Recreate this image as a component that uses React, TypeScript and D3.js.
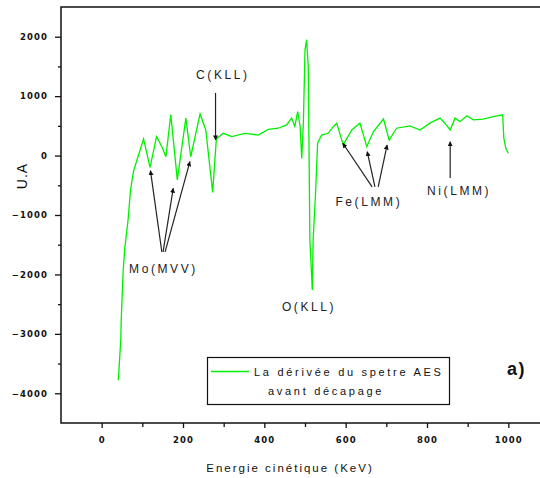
import React, { useEffect, useRef } from "react";
import * as d3 from "d3";

// energie cinetique (KeV) / derivee du spectre AES (U.A)
const energy = [
  41, 47, 48, 50, 53, 57, 65, 71, 78, 88, 103, 119, 135, 148, 158, 170, 186, 207, 219, 242,
  256, 273, 282, 299, 320, 352, 385, 410, 434, 455, 467, 475, 482, 488, 492, 496, 500, 504,
  508, 512, 518, 520, 526, 531, 541, 557, 570, 578, 594, 615, 635, 652, 668, 693, 707, 725,
  758, 783, 807, 832, 844, 857, 869, 881, 898, 914, 938, 963, 986, 989, 994, 1000,
];
const derivee = [
  -3780, -3100, -2770, -2430, -1920, -1550, -1080, -580, -270, -50, 280, -200, 320, 150, -20,
  690, -410, 630, -20, 700, 430, -620, 280, 375, 320, 375, 345, 440, 460, 515, 630, 490, 740,
  490, -50, 540, 1780, 1950, 1500, -1420, -2260, -1420, -630, 210, 345, 375, 490, 545, 180,
  430, 545, 150, 400, 615, 260, 460, 500, 430, 545, 630, 545, 430, 630, 570, 670, 600, 615,
  655, 685, 290, 120, 40,
];

const xTicks = [0, 200, 400, 600, 800, 1000];
const xMinor = [100, 300, 500, 700, 900];
const yTicks = [-4000, -3000, -2000, -1000, 0, 1000, 2000];
const yMinor = [-3500, -2500, -1500, -500, 500, 1500];

// annotations, in data units: label, text position, arrows [x0, y0, x1, y1]
const annLabels = ["C(KLL)", "Mo(MVV)", "O(KLL)", "Fe(LMM)", "Ni(LMM)"];
const annText = [[298, 1290], [152, -1976], [510, -2615], [657, -848], [879, -663]];
const annArrows = [
  [[280, 1054, 280, 263]],
  [[148, -1622, 120, -254], [151, -1622, 176, -550], [156, -1622, 217, -103]],
  [],
  [[665, -528, 593, 207], [672, -528, 653, 66], [680, -528, 702, 178]],
  [[857, -377, 857, 234]],
];

const W = 540, H = 478;
const left = 61, right = 549, top = 7, bottom = 423;
const sans = "'Liberation Sans', Arial, sans-serif";

export default function App() {
  const ref = useRef<SVGSVGElement>(null);

  useEffect(() => {
    const svg = d3.select(ref.current);
    svg.selectAll("*").remove();

    const x = d3.scaleLinear().domain([-100, 1100]).range([left, right]);
    const y = d3.scaleLinear().domain([-4500, 2500]).range([bottom, top]);

    const defs = svg.append("defs");
    defs.append("marker")
      .attr("id", "head")
      .attr("viewBox", "0 0 10 10")
      .attr("refX", 9).attr("refY", 5)
      .attr("markerWidth", 5).attr("markerHeight", 5)
      .attr("markerUnits", "userSpaceOnUse")
      .attr("orient", "auto")
      .append("path").attr("d", "M0,0L10,5L0,10Z").attr("fill", "#111");

    // frame
    svg.append("rect")
      .attr("x", left).attr("y", top)
      .attr("width", right - left).attr("height", bottom - top)
      .attr("fill", "none").attr("stroke", "#111").attr("stroke-width", 1.5);

    // axes
    const gx = svg.append("g").attr("transform", `translate(0,${bottom})`);
    gx.call(d3.axisBottom(x).tickValues(xTicks).tickSize(5).tickPadding(9).tickFormat(d3.format("d")));
    const gxm = svg.append("g").attr("transform", `translate(0,${bottom})`);
    gxm.call(d3.axisBottom(x).tickValues(xMinor).tickSize(4).tickFormat(() => ""));

    const gy = svg.append("g").attr("transform", `translate(${left},0)`);
    gy.call(d3.axisLeft(y).tickValues(yTicks).tickSize(6).tickPadding(7).tickFormat(d3.format("d")));
    const gym = svg.append("g").attr("transform", `translate(${left},0)`);
    gym.call(d3.axisLeft(y).tickValues(yMinor).tickSize(3).tickFormat(() => ""));

    [gx, gxm, gy, gym].forEach((g) => {
      g.select(".domain").remove();
      g.selectAll("line").attr("stroke", "#111").attr("stroke-width", 1.3);
      g.selectAll("text")
        .attr("font-family", "'DejaVu Sans', sans-serif")
        .attr("font-weight", "bold")
        .attr("font-size", 8.5)
        .attr("letter-spacing", 1.1)
        .attr("fill", "#111");
    });

    // curve
    const pts = energy.map((e, i) => [e, derivee[i]] as [number, number]);
    svg.append("path")
      .datum(pts)
      .attr("d", d3.line<[number, number]>().x((d) => x(d[0])).y((d) => y(d[1])))
      .attr("fill", "none")
      .attr("stroke", "#00f000")
      .attr("stroke-width", 1.3)
      .attr("stroke-linejoin", "miter");

    // annotations
    annLabels.forEach((lab, i) => {
      annArrows[i].forEach((a) => {
        svg.append("line")
          .attr("x1", x(a[0])).attr("y1", y(a[1]))
          .attr("x2", x(a[2])).attr("y2", y(a[3]))
          .attr("stroke", "#222").attr("stroke-width", 1.2)
          .attr("marker-end", "url(#head)");
      });
      svg.append("text")
        .attr("x", x(annText[i][0])).attr("y", y(annText[i][1]))
        .attr("text-anchor", "middle")
        .attr("font-family", sans).attr("font-size", 12)
        .attr("letter-spacing", 2.6)
        .attr("fill", "#222")
        .text(lab);
    });

    // axis titles
    svg.append("text")
      .attr("x", 290).attr("y", 472)
      .attr("text-anchor", "middle")
      .attr("font-family", sans).attr("font-size", 11.5)
      .attr("letter-spacing", 2)
      .attr("fill", "#111")
      .text("Energie cinétique (KeV)");
    svg.append("text")
      .attr("transform", "translate(27,176) rotate(-90)")
      .attr("text-anchor", "middle")
      .attr("font-family", sans).attr("font-size", 14)
      .attr("letter-spacing", 1)
      .attr("fill", "#111")
      .text("U.A");

    // legend
    svg.append("rect")
      .attr("x", 207.5).attr("y", 357.5).attr("width", 242).attr("height", 47)
      .attr("fill", "#fff").attr("stroke", "#111").attr("stroke-width", 1.2);
    svg.append("line")
      .attr("x1", 211).attr("x2", 249).attr("y1", 371.5).attr("y2", 371.5)
      .attr("stroke", "#00f000").attr("stroke-width", 1.3);
    svg.append("text")
      .attr("x", 254).attr("y", 376)
      .attr("font-family", sans).attr("font-size", 11)
      .attr("letter-spacing", 2.7)
      .attr("fill", "#111")
      .text("La dérivée du spetre AES");
    svg.append("text")
      .attr("x", 268).attr("y", 395)
      .attr("font-family", sans).attr("font-size", 11)
      .attr("letter-spacing", 2.7)
      .attr("fill", "#111")
      .text("avant décapage");

    svg.append("text")
      .attr("x", 507).attr("y", 375)
      .attr("font-family", sans).attr("font-size", 18).attr("font-weight", "bold")
      .attr("letter-spacing", 1.5)
      .attr("fill", "#111")
      .text("a)");
  }, []);

  return (
    <svg
      ref={ref}
      width={W}
      height={H}
      style={{ position: "absolute", left: 0, top: 0, background: "#fff" }}
    />
  );
}
